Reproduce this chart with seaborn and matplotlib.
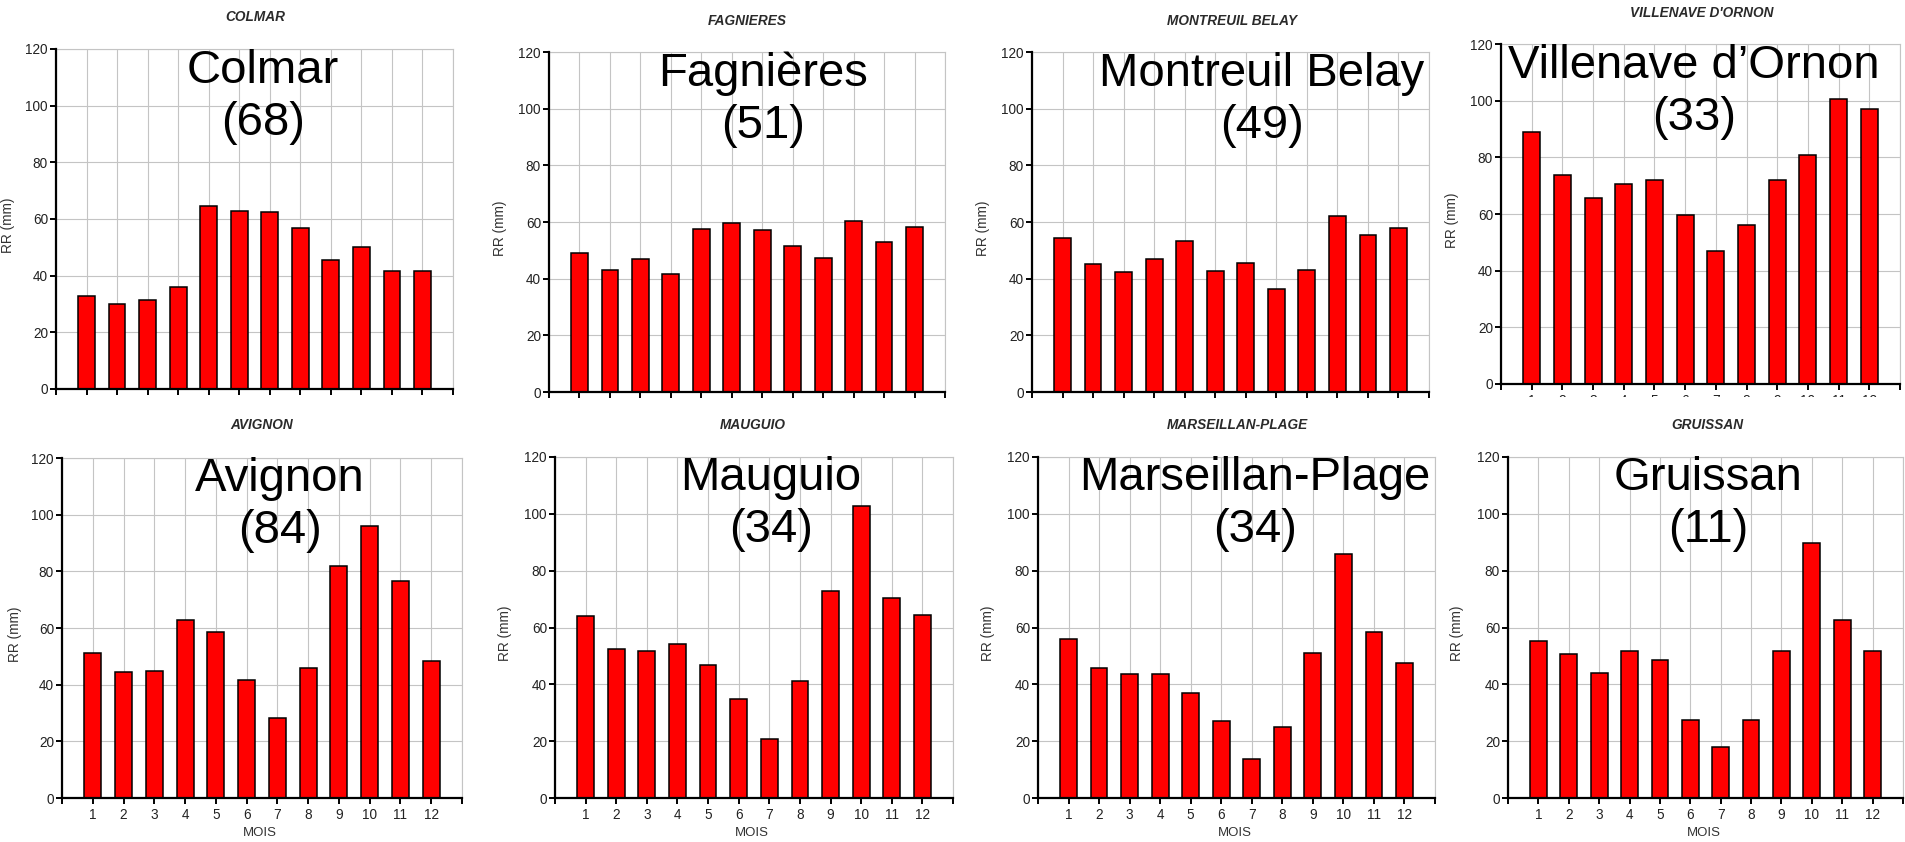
import matplotlib
matplotlib.use("Agg")
import matplotlib.pyplot as plt
from matplotlib.patches import Rectangle
import seaborn as sns
import pandas as pd

# Monthly precipitation (mm) per station
months = list(range(1, 13))
colmar = [33, 30, 31.5, 36, 64.7, 63, 62.5, 57, 45.6, 50.2, 41.7, 41.7]
fagnieres = [49.1, 43.2, 47.1, 41.8, 57.5, 59.6, 57.1, 51.5, 47.4, 60.5, 52.9, 58.2]
montreuil_belay = [54.2, 45.2, 42.2, 47.1, 53.3, 42.7, 45.5, 36.2, 43.2, 62.1, 55.4, 57.9]
villenave_dornon = [88.8, 73.7, 65.6, 70.6, 71.9, 59.6, 46.9, 56.1, 71.9, 80.8, 100.7, 96.9]
avignon = [51.3, 44.5, 44.9, 62.7, 58.5, 41.5, 28.4, 45.8, 81.9, 95.9, 76.7, 48.4]
mauguio = [63.9, 52.5, 51.7, 54.2, 46.7, 34.8, 20.7, 41.0, 72.9, 102.6, 70.3, 64.3]
marseillan_plage = [55.9, 45.7, 43.6, 43.6, 37.1, 27.0, 13.9, 24.9, 51.2, 86.0, 58.4, 47.4]
gruissan = [55.1, 50.6, 43.9, 51.7, 48.6, 27.5, 18.1, 27.5, 51.7, 89.8, 62.6, 51.7]

series = [colmar, fagnieres, montreuil_belay, villenave_dornon,
          avignon, mauguio, marseillan_plage, gruissan]
panel_titles = ["COLMAR", "FAGNIERES", "MONTREUIL BELAY", "VILLENAVE D'ORNON",
                "AVIGNON", "MAUGUIO", "MARSEILLAN-PLAGE", "GRUISSAN"]
station_names = ["Colmar", "Fagnières", "Montreuil Belay", "Villenave d’Ornon",
                 "Avignon", "Mauguio", "Marseillan-Plage", "Gruissan"]
departments = ["68", "51", "49", "33", "84", "34", "34", "11"]
y_ticks = [0, 20, 40, 60, 80, 100, 120]
x_label = "MOIS"
y_label = "RR (mm)"

# Layout in pixels: plot box (left, right, top, bottom)
boxes = [(56, 453, 49, 389), (549, 945, 52, 392), (1032, 1429, 52, 392), (1501, 1900, 44, 384),
         (62, 462, 458, 798), (555, 953, 457, 798), (1038, 1435, 457, 798), (1508, 1903, 457, 798)]
title_pos = [(255, 17), (747, 21), (1232, 21), (1702, 13),
             (262, 425), (753, 425), (1237, 425), (1707, 425)]
ylabel_x = [8, 500, 983, 1452, 15, 505, 988, 1457]
name_x = [263, 763, 1262, 1694, 280, 771, 1255, 1708]

W, H = 1905, 842
sns.set_style("white")
plt.rcParams["font.family"] = ["Liberation Sans", "DejaVu Sans"]

fig = plt.figure(figsize=(W / 100, H / 100), dpi=100)
fig.patch.set_facecolor("white")


def fx(x):
    return x / W


def fy(y):
    return 1 - y / H


grid_col = "#c4c4c4"
for i, vals in enumerate(series):
    l, r, t, b = boxes[i]
    top_row = i < 4
    ax = fig.add_axes([fx(l), fy(b), (r - l) / W, (b - t) / H])
    df = pd.DataFrame({"mois": months, "rr": vals})
    sns.barplot(data=df, x="mois", y="rr", native_scale=True, width=0.55,
                color="#ff0000", saturation=1, edgecolor="black", linewidth=1.1,
                ax=ax, zorder=3)
    ax.set_xlim(0, 13)
    ax.set_ylim(0, 120)
    ax.set_xticks(range(0, 14))
    ax.set_xticklabels([""] + [str(m) for m in months] + [""])
    ax.set_yticks(y_ticks)
    ax.grid(True, color=grid_col, lw=0.8)
    ax.set_axisbelow(True)
    ax.set_xlabel("")
    ax.set_ylabel("")
    for s in ("left", "bottom"):
        ax.spines[s].set_color("black")
        ax.spines[s].set_linewidth(1.6)
        ax.spines[s].set_zorder(4)
    for s in ("top", "right"):
        ax.spines[s].set_color(grid_col)
        ax.spines[s].set_linewidth(0.8)
    ax.tick_params(axis="both", direction="out", length=4.3, width=1.4, color="black",
                   labelcolor="#222222", labelsize=9.8, pad=3.2, bottom=True, left=True)
    ax.tick_params(axis="y", pad=1.5)
    if top_row and i != 3:
        ax.tick_params(axis="x", labelbottom=False)

    tx, ty = title_pos[i]
    fig.text(fx(tx), fy(ty), panel_titles[i], ha="center", va="center",
             fontsize=9.8, fontweight="bold", fontstyle="italic", color="#2a2a2a")
    fig.text(fx(ylabel_x[i]), fy((t + b) / 2 + 6), y_label, rotation=90,
             ha="center", va="center", fontsize=9.8, color="#333333")
    if not top_row:
        fig.text(fx((l + r) / 2 - 2), fy(833), x_label, ha="center", va="center",
                 fontsize=9.5, color="#333333")

    base1 = t + 34 if top_row else t + 33
    fig.text(fx(name_x[i]), fy(base1), station_names[i], ha="center",
             va="baseline", fontsize=34, color="black")
    fig.text(fx(name_x[i]), fy(base1 + 52), "(" + departments[i] + ")", ha="center",
             va="baseline", fontsize=34, color="black")

# the top-right panel's month labels are cut by the panel border
fig.add_artist(Rectangle((fx(1470), fy(412)), (W - 1470) / W, 15 / H,
                         transform=fig.transFigure, facecolor="white",
                         edgecolor="none", zorder=10))

fig.savefig("out.png", dpi=100, facecolor="white")
